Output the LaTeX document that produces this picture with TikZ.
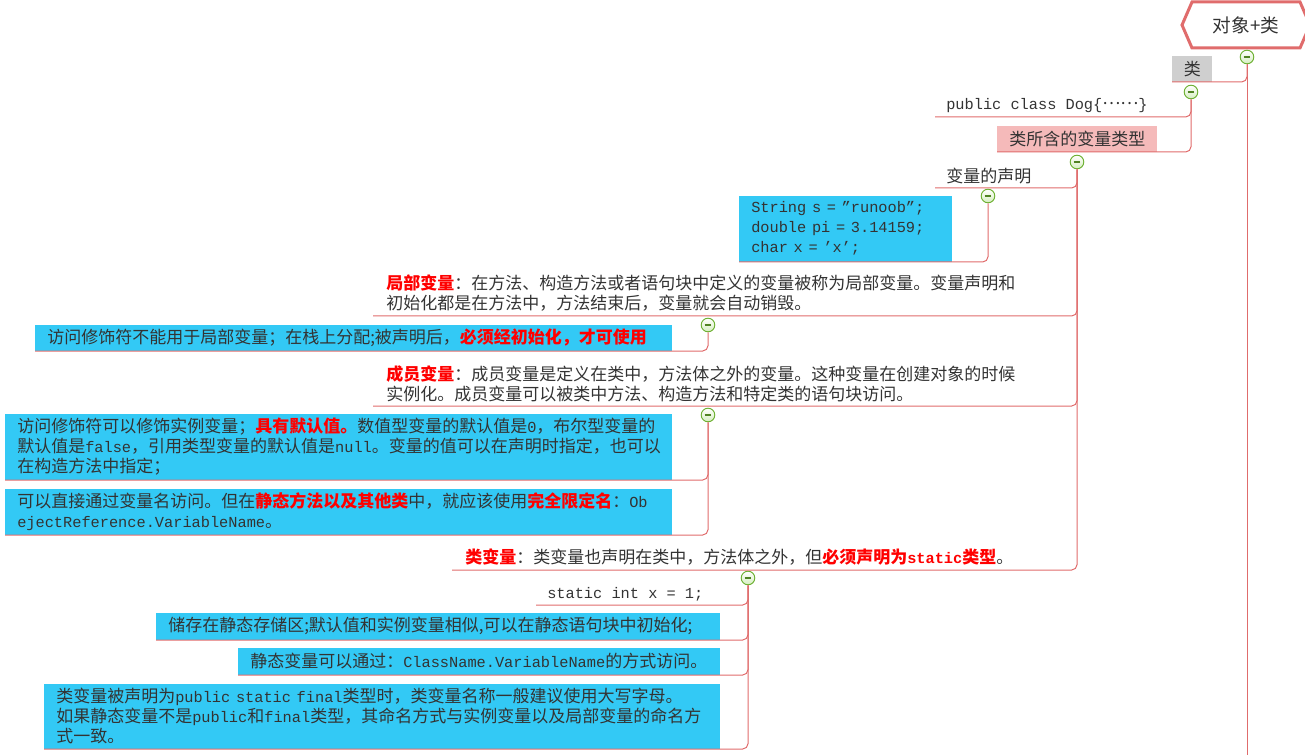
\documentclass[tikz,border=0pt]{standalone}
\usepackage{fontspec}
\setmainfont{Noto Sans CJK SC}
\newfontfamily\latfont[Scale=0.9]{Liberation Mono}
\usetikzlibrary{shapes.symbols}
\definecolor{linered}{HTML}{E06C6C}
\definecolor{boxblue}{HTML}{33C9F5}
\definecolor{boxpink}{HTML}{F5BABA}
\definecolor{boxgray}{HTML}{CFCFCF}
\definecolor{txt}{HTML}{333333}
\definecolor{foldgreen}{HTML}{6AAF2E}
\definecolor{foldfill}{HTML}{D6EEC0}
\newcommand{\lat}[1]{{\latfont #1}}
\newcommand{\hl}[1]{\textcolor{red}{\bfseries #1}}

\begin{document}
\begin{tikzpicture}[x=0.75pt, y=-0.75pt,
    every node/.style={font=\fontsize{12.75}{15}\selectfont, text=txt},
    branch/.style={draw=linered, line width=0.75pt, rounded corners=4pt,
        to path={|- (\tikztotarget)}},
    fold/.style={circle, draw=foldgreen, line width=0.7pt, minimum size=10.2pt,
        inner sep=0pt, top color=white, bottom color=foldfill,
        path picture={\draw[foldgreen!75!black, line width=1.2pt]
            ([xshift=-2.6pt]path picture bounding box.center) --
            ([xshift=2.6pt]path picture bounding box.center);}},
    topic/.style={anchor=south west, align=left, inner xsep=8.25pt, inner ysep=3pt},
    note/.style={anchor=south west, align=left, fill=boxblue, inner xsep=9pt, inner ysep=0pt},
    tag/.style={anchor=south west, fill=#1, inner sep=0pt, minimum height=19.5pt}]
    \useasboundingbox (0,0) rectangle (1305,755);
    \clip (0,0) rectangle (1305,755);

    \node[signal, signal to=west and east, signal pointer angle=133,
        draw=linered, line width=2.25pt, fill=white, minimum width=96pt,
        minimum height=34.5pt, font=\fontsize{14}{16}\selectfont] (root) at (1246,25) {对象+类};
    \node[fold] (rootfold) at (1247,57) {};
    \node[tag=boxgray, minimum width=30pt] (cls) at (1172,82) {类};
    \node[fold] (clsfold) at (1191,92) {};
    \node[topic] (dog) at (935,117) {\lat{public class Dog\{}\raisebox{0.3em}{……}\lat{\}}};
    \node[tag=boxpink, minimum width=120pt] (kinds) at (997,152) {类所含的变量类型};
    \node[fold] (kindsfold) at (1077,162) {};
    \node[topic] (decl) at (935,188) {变量的声明};
    \node[fold] (declfold) at (988,196) {};
    \node[note, text width=141.75pt, minimum height=49.5pt] (code) at (739,262)
        {\lat{String s = ”runoob”;}\\\lat{double pi = 3.14159;}\\\lat{char x = ’x’;}};
    \node[topic, inner xsep=9.75pt] (local) at (373,316)
        {\hl{局部变量}：在方法、构造方法或者语句块中定义的变量被称为局部变量。变量声明和\\初始化都是在方法中，方法结束后，变量就会自动销毁。};
    \node[fold] (localfold) at (708,325) {};
    \node[note, text width=459.75pt, minimum height=19.5pt] (localnote) at (35,351)
        {访问修饰符不能用于局部变量；在栈上分配;被声明后，\hl{必须经初始化，才可使用}};
    \node[topic, inner xsep=9.75pt] (member) at (373,406)
        {\hl{成员变量}：成员变量是定义在类中，方法体之外的变量。这种变量在创建对象的时候\\实例化。成员变量可以被类中方法、构造方法和特定类的语句块访问。};
    \node[fold] (memberfold) at (708,415) {};
    \node[note, text width=482.25pt, minimum height=49.5pt] (membernote1) at (5,480)
        {访问修饰符可以修饰实例变量；\hl{具有默认值。}数值型变量的默认值是\lat{0}，布尔型变量的\\默认值是\lat{false}，引用类型变量的默认值是\lat{null}。变量的值可以在声明时指定，也可以\\在构造方法中指定；};
    \node[note, text width=482.25pt, minimum height=34.5pt] (membernote2) at (5,535)
        {可以直接通过变量名访问。但在\hl{静态方法以及其他类}中，就应该使用\hl{完全限定名}：\lat{Ob}\\\lat{ejectReference.VariableName}。};
    \node[topic, inner xsep=9.75pt] (classvar) at (452,570)
        {\hl{类变量}：类变量也声明在类中，方法体之外，但\hl{必须声明为\lat{static}类型}。};
    \node[fold] (classvarfold) at (748,578) {};
    \node[topic] (staticcode) at (536,605) {\lat{static int x = 1;}};
    \node[note, text width=405pt, minimum height=20.25pt] (staticnote1) at (156,640)
        {储存在静态存储区;默认值和实例变量相似,可以在静态语句块中初始化;};
    \node[note, text width=343.5pt, minimum height=20.25pt] (staticnote2) at (238,675)
        {静态变量可以通过：\lat{ClassName.VariableName}的方式访问。};
    \node[note, text width=489pt, minimum height=48.75pt] (staticnote3) at (44,749)
        {类变量被声明为\lat{public static final}类型时，类变量名称一般建议使用大写字母。\\如果静态变量不是\lat{public}和\lat{final}类型，其命名方式与实例变量以及局部变量的命名方\\式一致。};
    \coordinate (trunkend) at (1247,760);

    \path
        (rootfold.south)     edge[branch, to path={-- (\tikztotarget)}] (trunkend)
                             edge[branch] (cls.south west)
        (clsfold.south)      edge[branch] (dog.south west)
                             edge[branch] (kinds.south west)
        (kindsfold.south)    edge[branch] (decl.south west)
                             edge[branch] (local.south west)
                             edge[branch] (member.south west)
                             edge[branch] (classvar.south west)
        (declfold.south)     edge[branch] (code.south west)
        (localfold.south)    edge[branch] (localnote.south west)
        (memberfold.south)   edge[branch] (membernote1.south west)
                             edge[branch] (membernote2.south west)
        (classvarfold.south) edge[branch] (staticcode.south west)
                             edge[branch] (staticnote1.south west)
                             edge[branch] (staticnote2.south west)
                             edge[branch] (staticnote3.south west)
        ;
\end{tikzpicture}
\end{document}
